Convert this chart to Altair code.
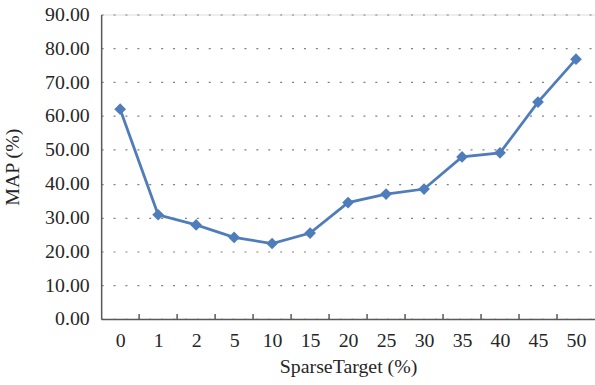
import altair as alt
import pandas as pd

# SparseTarget ratios and the resulting mean average precision
targets = ["0", "1", "2", "5", "10", "15", "20", "25", "30", "35", "40", "45", "50"]
map_values = [62.0, 30.8, 27.8, 24.1, 22.3, 25.4, 34.4, 36.9, 38.4, 47.9, 49.1, 64.1, 76.8]

df = pd.DataFrame({"idx": list(range(len(targets))), "target": targets, "map": map_values})
ticks_df = pd.DataFrame({"pos": [i + 0.5 for i in range(len(targets) - 1)]})

W, H = 498, 307
FONT = "Liberation Serif"
AX = "#595959"
LINE = "#4F7DBB"
TXT = "#262626"

label_array = "[" + ",".join("'%s'" % t for t in targets) + "]"

x_scale = alt.Scale(domain=[-0.5, len(targets) - 0.5], nice=False, zero=False)
y_scale = alt.Scale(domain=[0, 90], nice=False)

x_axis = alt.Axis(
    values=list(range(len(targets))),
    labelExpr=label_array + "[datum.value]",
    ticks=False, grid=False,
    domainColor=AX, domainWidth=1.5,
    labelFont=FONT, labelFontSize=20, labelColor=TXT,
    labelPadding=12,
    title="SparseTarget (%)", titleFont=FONT, titleFontSize=20,
    titleFontWeight="normal", titleColor=TXT, titlePadding=6,
)
y_axis = alt.Axis(
    values=list(range(0, 91, 10)), format=".2f",
    ticks=False, grid=True,
    gridColor="#7f7f7f", gridDash=[2, 10], gridWidth=1.2,
    domainColor=AX, domainWidth=1.5,
    labelFont=FONT, labelFontSize=20, labelColor=TXT,
    labelPadding=12,
    title="MAP (%)", titleFont=FONT, titleFontSize=20,
    titleFontWeight="normal", titleColor=TXT, titleX=-79,
)

line = alt.Chart(df).mark_line(
    color=LINE, strokeWidth=2.8,
    point=alt.OverlayMarkDef(shape="diamond", size=140, filled=True, color=LINE, opacity=1),
).encode(
    x=alt.X("idx:Q", scale=x_scale, axis=x_axis),
    y=alt.Y("map:Q", scale=y_scale, axis=y_axis),
)

# short inward tick marks between categories on the x axis
inner_ticks = alt.Chart(ticks_df).mark_rule(color=AX, strokeWidth=1.5).encode(
    x=alt.X("pos:Q", scale=x_scale),
    y=alt.value(H),
    y2=alt.value(H - 5),
)

chart = alt.layer(inner_ticks, line).properties(
    width=W, height=H,
    autosize=alt.AutoSizeParams(type="none"),
    padding={"left": 102, "top": 13, "right": 0, "bottom": 65},
).configure_view(stroke=None).configure(background="white")

chart.save("out.html", embed_options={"renderer": "svg", "actions": False})
